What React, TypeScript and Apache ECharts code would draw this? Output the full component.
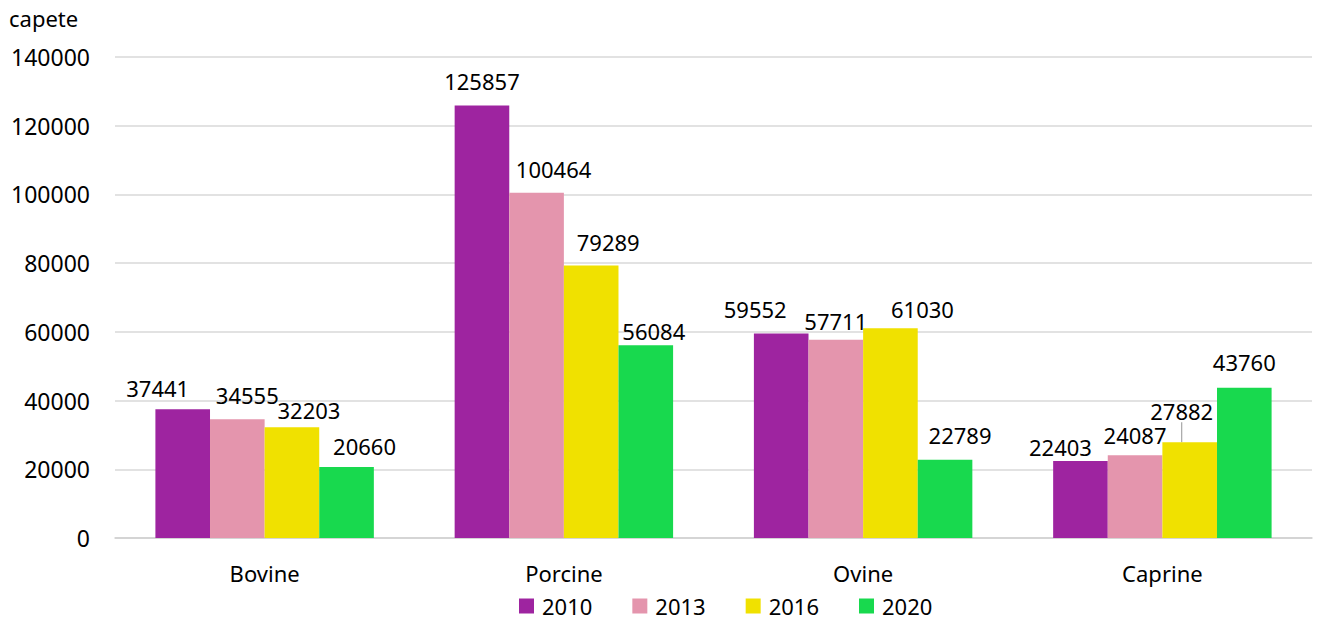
import React, { useEffect, useRef } from "react";
import * as echarts from "echarts";

const categories = ["Bovine", "Porcine", "Ovine", "Caprine"];
const years = ["2010", "2013", "2016", "2020"];
const values2010 = [37441, 125857, 59552, 22403];
const values2013 = [34555, 100464, 57711, 24087];
const values2016 = [32203, 79289, 61030, 27882];
const values2020 = [20660, 56084, 22789, 43760];
const yTicks = { min: 0, max: 140000, interval: 20000 };
const unitLabel = "capete";

const seriesValues = [values2010, values2013, values2016, values2020];
const colors = ["#9E24A0", "#E495AD", "#F0E100", "#18D94E"];
// label displacement (dx, dy) per series / category, mimicking the manual placement
const labelShift: number[][][] = [
  [[-25, -5], [0, -9], [-26, -8], [-20, 2]],
  [[10, -8], [17, -8], [0, -3], [0, -4]],
  [[17, -1], [17, -8], [32, -3], [-8, -15]],
  [[18, -5], [8, 2], [15, -9], [0, -10]],
];
const FONT = "'Noto Sans', 'Open Sans', sans-serif";

export default function App() {
  const ref = useRef<HTMLDivElement>(null);
  useEffect(() => {
    if (!ref.current) return;
    const chart = echarts.init(ref.current, undefined, { renderer: "svg" });
    chart.setOption({
      animation: false,
      textStyle: { fontFamily: FONT, color: "#000" },
      grid: { left: 115, right: 10, top: 57, bottom: 83, containLabel: false },
      title: {
        text: unitLabel,
        left: 4,
        top: 2,
        textStyle: { fontFamily: FONT, fontSize: 22, fontWeight: "normal", color: "#000" },
      },
      legend: {
        data: years,
        left: 519,
        top: 594,
        padding: 0,
        icon: "rect",
        itemWidth: 15,
        itemHeight: 15,
        itemGap: 40,
        textStyle: { fontFamily: FONT, fontSize: 22, lineHeight: 24, color: "#000", padding: [0, 0, 0, 3] },
      },
      xAxis: {
        type: "category",
        data: categories,
        axisLine: { show: true, lineStyle: { color: "#d0d0d0", width: 1.5 } },
        axisTick: { show: false },
        axisLabel: { fontFamily: FONT, fontSize: 22, color: "#000", margin: 24 },
      },
      yAxis: {
        type: "value",
        min: yTicks.min,
        max: yTicks.max,
        interval: yTicks.interval,
        axisLine: { show: false },
        axisTick: { show: false },
        splitLine: { lineStyle: { color: "#d9d9d9", width: 1.5 } },
        axisLabel: {
          fontFamily: FONT,
          fontSize: 23,
          color: "#000",
          margin: 25,
          formatter: (v: number) => String(v),
        },
      },
      series: years.map((y, s) => ({
        name: y,
        type: "bar",
        barGap: "0%",
        barCategoryGap: "27%",
        itemStyle: { color: colors[s] },
        label: {
          show: true,
          position: "top",
          distance: 5,
          fontFamily: FONT,
          fontSize: 22,
          color: "#000",
        },
        labelLine: { show: false, lineStyle: { color: "#a6a6a6", width: 1.2 } },
        labelLayout: (params: any) => {
          const d = labelShift[params.seriesIndex][params.dataIndex];
          return { dx: d[0], dy: d[1] };
        },
        data: seriesValues[s].map((v, i) =>
          s === 2 && i === 3
            ? { value: v, labelLine: { show: true, lineStyle: { color: "#a6a6a6", width: 1.2 } } }
            : v
        ),
      })),
    });
    return () => chart.dispose();
  }, []);
  return <div ref={ref} style={{ width: 1322, height: 621, position: "absolute", left: 0, top: 0 }} />;
}
